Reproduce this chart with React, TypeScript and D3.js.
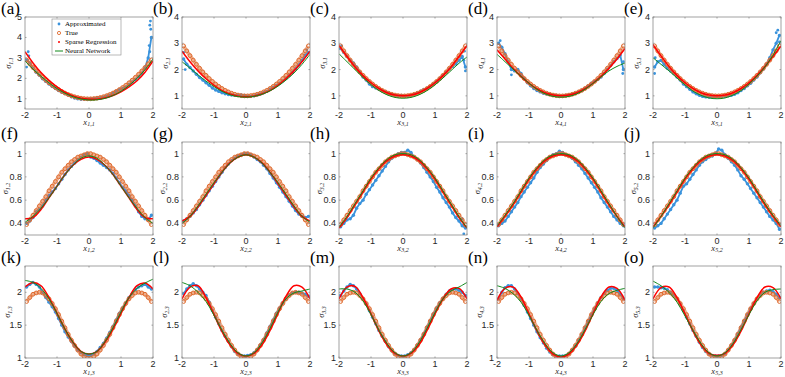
import React from 'react'
import * as d3 from 'd3'

// x positions shared by every panel
const X_FINE = d3.range(40).map(i => -1.95 + 0.1 * i)
const X_COARSE = d3.range(17).map(i => -2 + 0.25 * i)

// true values per row
const TRUE_ROW1 = [2.90, 2.71, 2.53, 2.36, 2.20, 2.05, 1.91, 1.78, 1.66, 1.55, 1.45, 1.36, 1.28, 1.21, 1.15, 1.10, 1.06, 1.03, 1.01, 1.00,
  1.00, 1.01, 1.03, 1.06, 1.10, 1.15, 1.21, 1.28, 1.36, 1.45, 1.55, 1.66, 1.78, 1.91, 2.05, 2.20, 2.36, 2.53, 2.71, 2.90]
const TRUE_ROW2 = [0.39, 0.43, 0.47, 0.51, 0.55, 0.59, 0.63, 0.68, 0.72, 0.76, 0.80, 0.84, 0.87, 0.90, 0.93, 0.95, 0.97, 0.98, 0.99, 1.00,
  1.00, 0.99, 0.98, 0.97, 0.95, 0.93, 0.90, 0.87, 0.84, 0.80, 0.76, 0.72, 0.68, 0.63, 0.59, 0.55, 0.51, 0.47, 0.43, 0.39]
const TRUE_ROW3 = [1.86, 1.92, 1.97, 1.99, 2.00, 1.99, 1.95, 1.90, 1.83, 1.75, 1.66, 1.56, 1.46, 1.36, 1.27, 1.19, 1.12, 1.06, 1.02, 1.00,
  1.00, 1.02, 1.06, 1.12, 1.19, 1.27, 1.36, 1.46, 1.56, 1.66, 1.75, 1.83, 1.90, 1.95, 1.99, 2.00, 1.99, 1.97, 1.92, 1.86]

// approximated (blue) values on X_FINE
const APPROX_A = [2.9, 2.75, 2.5, 2.3, 2.15, 1.98, 1.85, 1.72, 1.6, 1.5, 1.4, 1.32, 1.25, 1.18, 1.1, 1.04, 1.0, 0.98, 0.98, 0.99,
  1.0, 1.02, 1.04, 1.05, 1.08, 1.12, 1.18, 1.26, 1.36, 1.45, 1.5, 1.58, 1.7, 1.82, 1.95, 2.08, 2.25, 2.5, 3.0, 4.0]
const APPROX_B = [2.4, 2.2, 2.08, 1.95, 1.82, 1.7, 1.6, 1.5, 1.4, 1.3, 1.22, 1.17, 1.12, 1.08, 1.05, 1.03, 1.02, 1.02, 1.03, 1.02,
  0.99, 0.98, 1.0, 1.03, 1.07, 1.12, 1.17, 1.25, 1.32, 1.4, 1.48, 1.57, 1.67, 1.78, 1.9, 2.03, 2.18, 2.35, 2.55, 2.65]
const APPROX_C = [2.8, 2.65, 2.5, 2.35, 2.25, 2.1, 1.9, 1.72, 1.6, 1.45, 1.35, 1.3, 1.25, 1.2, 1.15, 1.1, 1.05, 1.02, 1.0, 1.02,
  1.0, 0.99, 1.02, 1.06, 1.12, 1.18, 1.24, 1.28, 1.36, 1.45, 1.55, 1.65, 1.78, 1.9, 2.02, 2.12, 2.22, 2.35, 2.5, 2.1]
const APPROX_D = [3.0, 2.85, 2.6, 2.3, 2.0, 1.95, 2.0, 1.85, 1.65, 1.5, 1.38, 1.28, 1.2, 1.15, 1.1, 1.07, 1.05, 1.03, 1.02, 1.0,
  1.0, 1.02, 1.04, 1.06, 1.1, 1.15, 1.2, 1.28, 1.38, 1.48, 1.55, 1.62, 1.72, 1.85, 2.0, 2.15, 2.3, 2.42, 2.55, 2.0]
const APPROX_E = [2.1, 2.3, 2.35, 2.2, 2.05, 1.95, 1.85, 1.72, 1.6, 1.45, 1.35, 1.25, 1.15, 1.08, 1.02, 0.98, 0.96, 0.95, 0.95, 0.95,
  0.96, 0.97, 0.98, 1.0, 1.02, 1.06, 1.12, 1.2, 1.28, 1.38, 1.48, 1.6, 1.72, 1.88, 2.02, 2.2, 2.45, 2.75, 3.0, 3.3]
const APPROX_F = [0.4, 0.42, 0.45, 0.5, 0.52, 0.55, 0.6, 0.64, 0.67, 0.7, 0.74, 0.78, 0.82, 0.86, 0.89, 0.92, 0.95, 0.97, 0.99, 1.0,
  0.97, 0.96, 0.94, 0.92, 0.9, 0.88, 0.86, 0.83, 0.79, 0.75, 0.71, 0.68, 0.64, 0.6, 0.55, 0.5, 0.46, 0.44, 0.43, 0.47]
const APPROX_G = [0.42, 0.44, 0.46, 0.49, 0.52, 0.56, 0.6, 0.64, 0.68, 0.72, 0.76, 0.8, 0.84, 0.88, 0.91, 0.94, 0.96, 0.98, 0.99, 1.0,
  1.0, 0.99, 0.97, 0.95, 0.93, 0.9, 0.87, 0.83, 0.79, 0.75, 0.71, 0.67, 0.63, 0.59, 0.55, 0.51, 0.48, 0.46, 0.45, 0.46]
const APPROX_H = [0.37, 0.4, 0.43, 0.44, 0.47, 0.53, 0.57, 0.6, 0.65, 0.69, 0.73, 0.77, 0.81, 0.85, 0.89, 0.93, 0.96, 0.98, 1.0, 1.01,
  1.01, 1.03, 1.01, 0.97, 0.95, 0.92, 0.88, 0.84, 0.8, 0.76, 0.71, 0.67, 0.62, 0.58, 0.54, 0.49, 0.45, 0.42, 0.38, 0.36]
const APPROX_I = [0.38, 0.4, 0.42, 0.46, 0.5, 0.54, 0.58, 0.63, 0.67, 0.71, 0.75, 0.79, 0.84, 0.88, 0.91, 0.94, 0.97, 0.99, 1.0, 1.02,
  1.01, 0.99, 0.98, 0.96, 0.93, 0.9, 0.87, 0.83, 0.79, 0.75, 0.71, 0.67, 0.62, 0.58, 0.54, 0.5, 0.46, 0.43, 0.4, 0.38]
const APPROX_J = [0.36, 0.38, 0.4, 0.44, 0.48, 0.52, 0.56, 0.6, 0.66, 0.72, 0.74, 0.78, 0.82, 0.86, 0.9, 0.93, 0.95, 0.97, 0.98, 1.0,
  1.04, 1.03, 0.99, 0.96, 0.93, 0.9, 0.86, 0.81, 0.78, 0.74, 0.7, 0.66, 0.62, 0.58, 0.54, 0.5, 0.46, 0.43, 0.4, 0.35]
const APPROX_K = [2.08, 2.12, 2.15, 2.12, 2.08, 2.0, 1.92, 1.85, 1.78, 1.7, 1.6, 1.5, 1.4, 1.32, 1.25, 1.18, 1.12, 1.08, 1.05, 1.04,
  1.04, 1.06, 1.1, 1.16, 1.22, 1.3, 1.39, 1.48, 1.58, 1.68, 1.76, 1.84, 1.92, 1.98, 2.04, 2.08, 2.1, 2.12, 2.08, 2.05]
const APPROX_L = [1.98, 2.05, 2.1, 2.13, 2.1, 2.05, 2.0, 1.95, 1.85, 1.72, 1.62, 1.52, 1.42, 1.33, 1.25, 1.17, 1.1, 1.06, 1.04, 1.03,
  1.04, 1.05, 1.08, 1.13, 1.2, 1.28, 1.38, 1.48, 1.58, 1.68, 1.76, 1.84, 1.91, 1.96, 1.99, 2.0, 2.0, 1.99, 1.97, 1.94]
const APPROX_M = [1.95, 2.02, 2.08, 2.12, 2.1, 2.05, 1.98, 1.9, 1.82, 1.72, 1.62, 1.52, 1.42, 1.33, 1.25, 1.17, 1.11, 1.07, 1.04, 1.03,
  1.03, 1.05, 1.08, 1.13, 1.2, 1.28, 1.37, 1.47, 1.57, 1.67, 1.76, 1.84, 1.91, 1.97, 2.02, 2.04, 2.05, 2.03, 2.0, 1.95]
const APPROX_N = [1.9, 2.0, 2.07, 2.1, 2.1, 2.05, 1.98, 1.9, 1.8, 1.7, 1.6, 1.5, 1.4, 1.31, 1.23, 1.15, 1.09, 1.05, 1.03, 1.03,
  1.03, 1.04, 1.07, 1.12, 1.18, 1.27, 1.36, 1.46, 1.56, 1.66, 1.75, 1.84, 1.92, 1.98, 2.03, 2.06, 2.06, 2.03, 1.97, 1.9]
const APPROX_O = [2.08, 2.08, 2.07, 2.06, 2.04, 2.0, 1.96, 1.9, 1.82, 1.72, 1.62, 1.52, 1.42, 1.33, 1.24, 1.16, 1.1, 1.06, 1.04, 1.03,
  1.03, 1.04, 1.07, 1.12, 1.19, 1.27, 1.37, 1.47, 1.57, 1.66, 1.75, 1.83, 1.9, 1.96, 2.0, 2.02, 2.03, 2.01, 1.97, 1.92]

// extra blue outliers [x, value]
const EXTRA_A = [[-1.95, 2.55], [-1.9, 3.3], [-1.88, 3.1], [1.92, 4.8], [1.9, 4.6], [1.93, 4.4], [1.88, 3.6], [1.9, 3.3]]
const EXTRA_B = [[-1.95, 2.65], [-1.9, 2.0], [1.9, 2.75]]
const EXTRA_C = [[1.92, 2.7], [1.95, 1.95], [1.9, 2.35], [-1.92, 2.9]]
const EXTRA_D = [[1.95, 2.3], [1.93, 1.85], [-1.9, 3.1], [-1.55, 1.8]]
const EXTRA_E = [[-1.95, 1.85], [-1.93, 2.45], [1.9, 3.5], [1.85, 3.4], [1.95, 3.05]]
const EXTRA_H = [[1.85, 0.44], [1.9, 0.31]]

// sparse regression (red) and neural network (green) on X_COARSE
const SPARSE_A = [3.3, 2.75, 2.28, 1.9, 1.58, 1.32, 1.14, 1.03, 0.98, 0.98, 1.04, 1.16, 1.34, 1.58, 1.88, 2.3, 2.85]
const NEURAL_A = [2.85, 2.45, 2.1, 1.78, 1.5, 1.27, 1.1, 0.99, 0.94, 0.95, 1.02, 1.16, 1.37, 1.65, 2.0, 2.42, 2.95]
const SPARSE_B = [2.7, 2.3, 1.95, 1.65, 1.4, 1.2, 1.07, 0.99, 0.97, 0.99, 1.07, 1.2, 1.4, 1.65, 1.95, 2.3, 2.7]
const NEURAL_B = [2.3, 2.05, 1.8, 1.56, 1.35, 1.17, 1.04, 0.97, 0.95, 0.98, 1.06, 1.19, 1.37, 1.6, 1.87, 2.2, 2.58]
const SPARSE_C = [2.92, 2.5, 2.1, 1.77, 1.5, 1.28, 1.12, 1.03, 1.0, 1.03, 1.12, 1.28, 1.5, 1.77, 2.1, 2.5, 2.92]
const NEURAL_C = [2.6, 2.3, 2.0, 1.7, 1.43, 1.2, 1.04, 0.94, 0.91, 0.94, 1.04, 1.2, 1.42, 1.68, 1.96, 2.24, 2.48]
const SPARSE_D = [2.75, 2.4, 2.05, 1.74, 1.48, 1.27, 1.12, 1.03, 1.0, 1.03, 1.12, 1.27, 1.48, 1.74, 2.05, 2.4, 2.8]
const NEURAL_D = [2.58, 2.3, 2.02, 1.74, 1.48, 1.25, 1.08, 0.98, 0.95, 0.98, 1.08, 1.25, 1.47, 1.72, 1.95, 2.12, 2.25]
const SPARSE_E = [2.95, 2.52, 2.12, 1.78, 1.5, 1.28, 1.12, 1.03, 1.0, 1.03, 1.12, 1.28, 1.5, 1.78, 2.12, 2.5, 2.9]
const NEURAL_E = [2.45, 2.2, 1.95, 1.68, 1.42, 1.18, 1.02, 0.92, 0.89, 0.92, 1.03, 1.2, 1.45, 1.75, 2.1, 2.55, 3.1]
const SPARSE_F = [0.44, 0.45, 0.52, 0.62, 0.72, 0.82, 0.9, 0.95, 0.97, 0.95, 0.9, 0.82, 0.72, 0.62, 0.52, 0.45, 0.44]
const NEURAL_F = [0.41, 0.46, 0.53, 0.62, 0.72, 0.82, 0.9, 0.96, 0.98, 0.96, 0.9, 0.82, 0.72, 0.62, 0.53, 0.45, 0.4]
const SPARSE_G = [0.42, 0.46, 0.54, 0.64, 0.74, 0.84, 0.92, 0.97, 0.99, 0.97, 0.92, 0.84, 0.74, 0.64, 0.54, 0.46, 0.42]
const NEURAL_G = [0.4, 0.46, 0.55, 0.65, 0.75, 0.84, 0.92, 0.97, 0.99, 0.97, 0.92, 0.84, 0.75, 0.65, 0.55, 0.46, 0.41]
const SPARSE_H = [0.36, 0.45, 0.56, 0.67, 0.78, 0.87, 0.94, 0.98, 0.99, 0.98, 0.94, 0.87, 0.78, 0.67, 0.56, 0.45, 0.36]
const NEURAL_H = [0.37, 0.46, 0.57, 0.68, 0.79, 0.88, 0.95, 0.99, 1.0, 0.99, 0.95, 0.88, 0.79, 0.68, 0.57, 0.46, 0.36]
const SPARSE_I = [0.37, 0.46, 0.56, 0.67, 0.78, 0.87, 0.94, 0.98, 0.99, 0.98, 0.94, 0.87, 0.78, 0.67, 0.56, 0.46, 0.37]
const NEURAL_I = [0.38, 0.47, 0.57, 0.68, 0.79, 0.88, 0.95, 0.99, 1.0, 0.99, 0.95, 0.88, 0.79, 0.68, 0.57, 0.46, 0.36]
const SPARSE_J = [0.37, 0.46, 0.56, 0.67, 0.78, 0.87, 0.94, 0.98, 0.99, 0.98, 0.94, 0.87, 0.78, 0.67, 0.56, 0.46, 0.37]
const NEURAL_J = [0.36, 0.46, 0.57, 0.68, 0.79, 0.88, 0.95, 0.99, 1.0, 0.99, 0.95, 0.88, 0.79, 0.68, 0.57, 0.47, 0.38]
const SPARSE_K = [2.08, 2.15, 2.1, 1.92, 1.68, 1.44, 1.24, 1.1, 1.06, 1.1, 1.24, 1.44, 1.68, 1.92, 2.1, 2.14, 2.05]
const NEURAL_K = [2.18, 2.15, 2.06, 1.9, 1.68, 1.44, 1.24, 1.1, 1.06, 1.1, 1.25, 1.46, 1.7, 1.92, 2.06, 2.14, 2.2]
const SPARSE_L = [1.9, 2.08, 2.1, 1.92, 1.66, 1.4, 1.2, 1.07, 1.03, 1.07, 1.2, 1.42, 1.68, 1.94, 2.1, 2.08, 1.9]
const NEURAL_L = [2.15, 2.1, 2.0, 1.86, 1.65, 1.42, 1.22, 1.08, 1.03, 1.08, 1.23, 1.45, 1.7, 1.9, 1.99, 2.02, 2.05]
const SPARSE_M = [1.9, 2.08, 2.09, 1.92, 1.67, 1.41, 1.2, 1.07, 1.03, 1.07, 1.2, 1.42, 1.67, 1.9, 2.05, 2.06, 1.9]
const NEURAL_M = [2.05, 2.05, 2.0, 1.87, 1.66, 1.42, 1.22, 1.08, 1.03, 1.08, 1.23, 1.45, 1.69, 1.9, 2.02, 2.08, 2.15]
const SPARSE_N = [1.88, 2.06, 2.08, 1.93, 1.67, 1.41, 1.2, 1.06, 1.02, 1.06, 1.2, 1.41, 1.67, 1.93, 2.08, 2.06, 1.88]
const NEURAL_N = [2.1, 2.06, 1.98, 1.85, 1.65, 1.42, 1.22, 1.08, 1.03, 1.08, 1.22, 1.43, 1.66, 1.86, 1.98, 2.03, 2.06]
const SPARSE_O = [1.9, 2.07, 2.08, 1.92, 1.67, 1.41, 1.2, 1.07, 1.04, 1.07, 1.2, 1.41, 1.67, 1.92, 2.08, 2.07, 1.9]
const NEURAL_O = [2.17, 2.1, 2.0, 1.85, 1.64, 1.42, 1.22, 1.08, 1.03, 1.08, 1.22, 1.43, 1.66, 1.87, 2.0, 2.04, 2.05]

const LETTERS = ['a', 'b', 'c', 'd', 'e', 'f', 'g', 'h', 'i', 'j', 'k', 'l', 'm', 'n', 'o']
const LEGEND = ['Approximated', 'True', 'Sparse Regression', 'Neural Network']

const APPROX = [APPROX_A, APPROX_B, APPROX_C, APPROX_D, APPROX_E, APPROX_F, APPROX_G, APPROX_H, APPROX_I, APPROX_J, APPROX_K, APPROX_L, APPROX_M, APPROX_N, APPROX_O]
const EXTRA = [EXTRA_A, EXTRA_B, EXTRA_C, EXTRA_D, EXTRA_E, [], [], EXTRA_H, [], [], [], [], [], [], []]
const SPARSE = [SPARSE_A, SPARSE_B, SPARSE_C, SPARSE_D, SPARSE_E, SPARSE_F, SPARSE_G, SPARSE_H, SPARSE_I, SPARSE_J, SPARSE_K, SPARSE_L, SPARSE_M, SPARSE_N, SPARSE_O]
const NEURAL = [NEURAL_A, NEURAL_B, NEURAL_C, NEURAL_D, NEURAL_E, NEURAL_F, NEURAL_G, NEURAL_H, NEURAL_I, NEURAL_J, NEURAL_K, NEURAL_L, NEURAL_M, NEURAL_N, NEURAL_O]
const TRUE_ROWS = [TRUE_ROW1, TRUE_ROW2, TRUE_ROW3]

const ROWS = [
  { top: 17, h: 92, domain: [0.5, 4], ticks: [1, 2, 3, 4], yl: 14 },
  { top: 142, h: 93, domain: [0.3, 1.1], ticks: [0.4, 0.6, 0.8, 1], yl: 17 },
  { top: 266, h: 92, domain: [1, 2.4], ticks: [1, 1.5, 2], yl: 15 },
]
const COLS = [25, 182, 339, 497, 653]
const W = 128

const BLUE = '#3a93dc', ORANGE = '#e06c30', RED = '#ff0000', GREEN = '#11891a'
const AXIS = '#8a8a8a', TXT = '#262626'
const SANS = '"Liberation Sans", Arial, sans-serif'
const SERIF = '"Liberation Serif", "Times New Roman", serif'

const Panel = ({ idx }: { idx: number }) => {
  const r = Math.floor(idx / 5), c = idx % 5
  const row = ROWS[r]
  const left = COLS[c], top = row.top, bottom = row.top + row.h
  const domain = idx === 0 ? [0.5, 5] : row.domain
  const ticks = idx === 0 ? [1, 2, 3, 4, 5] : row.ticks
  const x = d3.scaleLinear().domain([-2, 2]).range([left, left + W])
  const y = d3.scaleLinear().domain(domain).range([bottom, top])
  const line = d3.line<number>().x((_, i) => x(X_COARSE[i])).y(d => y(d)).curve(d3.curveCatmullRom)
  const band = d3.line<number>().x((_, i) => x(X_FINE[i])).y(d => y(d))
  const smooth = d3.line<number>().x((_, i) => x(X_FINE[i])).y(d => y(d)).curve(d3.curveCatmullRom)
  const clip = `clip-${idx}`
  const sub = `${c + 1},${r + 1}`
  const approx = APPROX[idx]
  return (
    <g>
      <clipPath id={clip}><rect x={left} y={top} width={W} height={row.h} /></clipPath>
      <g clipPath={`url(#${clip})`}>
        <path d={band(approx) || ''} fill="none" stroke={BLUE} strokeWidth={1.8} />
        {approx.map((v, i) => <circle key={'b' + i} cx={x(X_FINE[i])} cy={y(v)} r={1.7} fill={BLUE} />)}
        {EXTRA[idx].map((p, i) => <circle key={'e' + i} cx={x(p[0])} cy={y(p[1])} r={1.4} fill={BLUE} />)}
        <path d={smooth(TRUE_ROWS[r]) || ''} fill="none" stroke={ORANGE} strokeOpacity={0.55} strokeWidth={3.6} />
        {TRUE_ROWS[r].map((v, i) => <circle key={'t' + i} cx={x(X_FINE[i])} cy={y(v)} r={1.9} fill="none" stroke={ORANGE} strokeWidth={1} />)}
        <path d={line(SPARSE[idx]) || ''} fill="none" stroke={RED} strokeWidth={1.5} />
        <path d={line(NEURAL[idx]) || ''} fill="none" stroke={GREEN} strokeWidth={1} />
      </g>
      <rect x={left} y={top} width={W} height={row.h} fill="none" stroke={AXIS} strokeWidth={0.8} />
      {x.ticks(5).map(t => (
        <g key={'x' + t}>
          <line x1={x(t)} x2={x(t)} y1={bottom} y2={bottom - 1.5} stroke={AXIS} strokeWidth={0.8} />
          <line x1={x(t)} x2={x(t)} y1={top} y2={top + 1.5} stroke={AXIS} strokeWidth={0.8} />
          <text x={x(t)} y={bottom + 9} textAnchor="middle" fontFamily={SANS} fontSize={9} fill={TXT}>{t < 0 ? '-' + Math.abs(t) : t}</text>
        </g>
      ))}
      {ticks.map(t => (
        <g key={'y' + t}>
          <line x1={left} x2={left + 1.5} y1={y(t)} y2={y(t)} stroke={AXIS} strokeWidth={0.8} />
          <line x1={left + W} x2={left + W - 1.5} y1={y(t)} y2={y(t)} stroke={AXIS} strokeWidth={0.8} />
          <text x={left - 3} y={y(t) + 3} textAnchor="end" fontFamily={SANS} fontSize={9} fill={TXT}>{t}</text>
        </g>
      ))}
      <text x={left + W / 2} y={bottom + 15.5} textAnchor="middle" fontFamily={SERIF} fontStyle="italic" fontSize={8.5} fill={TXT}>
        x<tspan fontSize={6} dy={1.5}>{sub}</tspan>
      </text>
      <text transform={`translate(${left - row.yl},${(top + bottom) / 2}) rotate(-90)`} textAnchor="middle" fontFamily={SERIF} fontStyle="italic" fontSize={8.5} fill={TXT}>
        σ<tspan fontSize={6} dy={1.5}>{sub}</tspan>
      </text>
      <text x={Math.max(1, left - 29)} y={top - 3} fontFamily={SERIF} fontSize={17} fill="#000">({LETTERS[idx]})</text>
    </g>
  )
}

const Legend = () => {
  const lx = 52, ly = 19
  return (
    <g>
      <rect x={lx} y={ly} width={69} height={36} fill="#fff" stroke={AXIS} strokeWidth={0.6} />
      {LEGEND.map((name, i) => {
        const cy = ly + 5 + i * 9
        return (
          <g key={name}>
            {i === 0 && <circle cx={lx + 7} cy={cy} r={1.4} fill={BLUE} />}
            {i === 1 && <circle cx={lx + 7} cy={cy} r={1.6} fill="none" stroke={ORANGE} strokeWidth={0.9} />}
            {i === 2 && <circle cx={lx + 7} cy={cy} r={1} fill={RED} />}
            {i === 3 && <line x1={lx + 3} x2={lx + 11} y1={cy} y2={cy} stroke={GREEN} strokeWidth={1} />}
            <text x={lx + 13} y={cy + 2.3} fontFamily={SERIF} fontSize={7} fill="#000">{name}</text>
          </g>
        )
      })}
    </g>
  )
}

export default function App() {
  return (
    <svg width={785} height={377} style={{ position: 'absolute', left: 0, top: 0, background: '#fff' }}>
      {LETTERS.map((_, i) => <Panel key={i} idx={i} />)}
      <Legend />
    </svg>
  )
}
